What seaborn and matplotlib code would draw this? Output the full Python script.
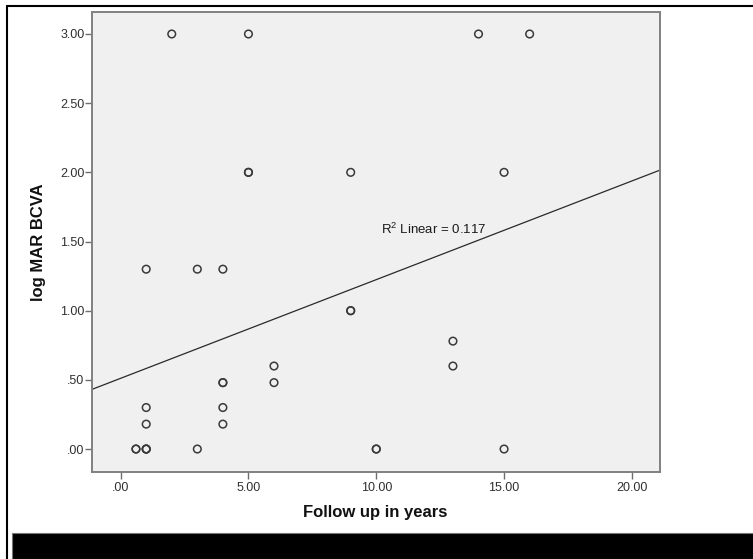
import matplotlib
matplotlib.use("Agg")
import numpy as np
import pandas as pd
import seaborn as sns
import matplotlib.pyplot as plt
from matplotlib.patches import Rectangle
from matplotlib.lines import Line2D

# Follow-up duration (years) and visual acuity (logMAR BCVA) per eye
follow_up_years = [2, 5, 14, 16, 5, 5, 9, 15, 1, 3, 4, 9, 9, 6, 6, 13, 13,
                   4, 4, 4, 4, 1, 1, 0.6, 0.6, 1, 1, 1, 3, 10, 10, 15]
logmar_bcva = [3.00, 3.00, 3.00, 3.00, 2.00, 2.00, 2.00, 2.00, 1.30, 1.30,
               1.30, 1.00, 1.00, 0.60, 0.48, 0.78, 0.60, 0.48, 0.48, 0.30,
               0.18, 0.30, 0.18, 0.00, 0.00, 0.00, 0.00, 0.00, 0.00, 0.00,
               0.00, 0.00]

x_tick_values = [0, 5, 10, 15, 20]
x_tick_labels = [".00", "5.00", "10.00", "15.00", "20.00"]
y_tick_values = [0.0, 0.5, 1.0, 1.5, 2.0, 2.5, 3.0]
y_tick_labels = [".00", ".50", "1.00", "1.50", "2.00", "2.50", "3.00"]

r2_label = "0.117"

df = pd.DataFrame({"years": follow_up_years, "bcva": logmar_bcva})

sns.set_style("ticks")
plt.rcParams["font.family"] = ["Liberation Sans", "DejaVu Sans"]
plt.rcParams["mathtext.fontset"] = "custom"
plt.rcParams["mathtext.rm"] = "Liberation Sans"
plt.rcParams["mathtext.it"] = "Liberation Sans:italic"

W, H = 753, 559
fig = plt.figure(figsize=(W / 100, H / 100), dpi=100)
fig.patch.set_facecolor("white")

left, right, top, bottom = 92, 660, 12, 472
ax = fig.add_axes([left / W, 1 - bottom / H, (right - left) / W, (bottom - top) / H])
ax.set_facecolor("#f0f0f0")

xlim = (-1.12, 21.1)
ylim = (-0.166, 3.159)
ax.set_xlim(*xlim)
ax.set_ylim(*ylim)

# Scatter of open circles
sns.scatterplot(data=df, x="years", y="bcva", ax=ax, marker="o", s=30,
                facecolors="none", edgecolor="#3a3a3a", linewidth=1.1,
                zorder=3)

# Least-squares fit line spanning the full x range
sns.regplot(data=df, x="years", y="bcva", ax=ax, scatter=False, ci=None,
            truncate=False, line_kws=dict(color="#2a2a2a", lw=0.9))

ax.set_xlim(*xlim)
ax.set_ylim(*ylim)

ax.text(10.18, 1.59, r"R$^2$ Linear = " + r2_label, fontsize=9.5,
        color="#1a1a1a", ha="left", va="center")

ax.set_xticks(x_tick_values)
ax.set_xticklabels(x_tick_labels)
ax.set_yticks(y_tick_values)
ax.set_yticklabels(y_tick_labels)
ax.tick_params(axis="both", direction="out", length=5, width=1.0,
               color="#6e6e6e", labelcolor="#303030", labelsize=9)
ax.tick_params(axis="y", pad=0.5)
ax.tick_params(axis="x", pad=2.5)

for side in ["left", "right", "top", "bottom"]:
    ax.spines[side].set_visible(True)
    ax.spines[side].set_color("#808080")
    ax.spines[side].set_linewidth(1.4)

ax.set_xlabel("Follow up in years", fontsize=12, fontweight="bold",
              color="#111111")
ax.set_ylabel("log MAR BCVA", fontsize=12, fontweight="bold",
              color="#111111")
ax.xaxis.set_label_coords(0.498, (bottom - 512) / (bottom - top))
ax.xaxis.label.set_va("center")
ax.yaxis.set_label_coords((39 - left) / (right - left), 0.5)
ax.yaxis.label.set_va("center")

# Page frame: top and left rules, solid bar along the bottom
fig.add_artist(Line2D([7 / W, 1], [1 - 6 / H, 1 - 6 / H],
                      transform=fig.transFigure, color="black", lw=1.5))
fig.add_artist(Line2D([7 / W, 7 / W], [0, 1 - 6 / H],
                      transform=fig.transFigure, color="black", lw=1.5))
fig.add_artist(Rectangle((12 / W, 0), 1, 26 / H, transform=fig.transFigure,
                         facecolor="black", edgecolor="#777777", lw=0.8))

fig.savefig("out.png", dpi=100)
